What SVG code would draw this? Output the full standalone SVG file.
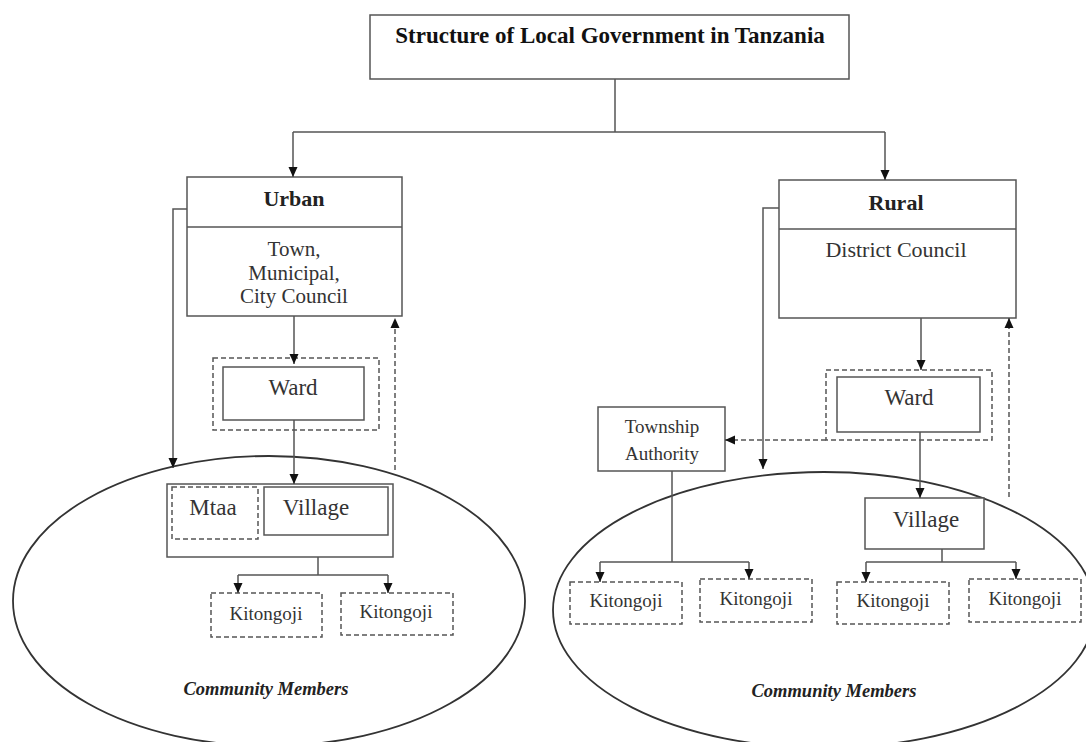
<svg xmlns="http://www.w3.org/2000/svg" width="1086" height="742" viewBox="0 0 1086 742">
<style>
.box{fill:#fff;stroke:#555;stroke-width:1.5}
.dbox{fill:none;stroke:#555;stroke-width:1.5;stroke-dasharray:5 3}
.ell{fill:none;stroke:#333;stroke-width:1.8}
.ln{fill:none;stroke:#555;stroke-width:1.5}
.arr{marker-end:url(#ah)}
.dl{stroke-dasharray:5 3}
text{font-family:"Liberation Serif","Times New Roman",serif;fill:#333;text-anchor:middle}
.t{font-size:23px;font-weight:bold;fill:#111}
.h{font-size:22px;font-weight:bold;fill:#222}
.b{font-size:21px}
.w{font-size:23px}
.k{font-size:19px}
.cm{font-size:18.5px;font-weight:bold;font-style:italic;fill:#222}
</style>
<defs>
<marker id="ah" viewBox="0 0 10 10" refX="10" refY="5" markerWidth="10" markerHeight="10" markerUnits="userSpaceOnUse" orient="auto">
<path d="M0,0.5 L10,5 L0,9.5 z" fill="#111"/>
</marker>
</defs>

<g id="ellipses">
<ellipse id="urban-community" class="ell" cx="269" cy="601" rx="256" ry="145"/>
<ellipse id="rural-community" class="ell" cx="824" cy="610" rx="271" ry="138"/>
</g>

<g id="title">
<rect class="box" x="370" y="15" width="479" height="64"/>
<text class="t" x="610" y="43">Structure of Local Government in Tanzania</text>
</g>

<g id="urban">
<rect class="box" x="187" y="177" width="215" height="139"/>
<line class="ln" x1="187" y1="227" x2="402" y2="227"/>
<text class="h" x="294" y="206">Urban</text>
<text class="b" x="294" y="256">Town,</text>
<text class="b" x="294" y="280">Municipal,</text>
<text class="b" x="294" y="303">City Council</text>
</g>

<g id="urban-ward">
<rect class="dbox" x="213" y="358" width="166" height="72"/>
<rect class="box" x="223" y="367" width="141" height="53"/>
<text class="w" x="293" y="395">Ward</text>
</g>

<g id="mtaa-village">
<rect class="box" x="167" y="484" width="226" height="73"/>
<rect class="dbox" x="172" y="487" width="86" height="52"/>
<rect class="box" x="264" y="487" width="124" height="48"/>
<text class="w" x="213" y="515">Mtaa</text>
<text class="w" x="316" y="515">Village</text>
</g>

<g id="urban-kitongoji-1">
<rect class="dbox" x="211" y="593" width="111" height="44"/>
<text class="k" x="266" y="620">Kitongoji</text>
</g>
<g id="urban-kitongoji-2">
<rect class="dbox" x="341" y="593" width="112" height="42"/>
<text class="k" x="396" y="618">Kitongoji</text>
</g>
<g id="urban-community-label">
<text class="cm" x="266" y="695">Community Members</text>
</g>

<g id="rural">
<rect class="box" x="779" y="180" width="237" height="138"/>
<line class="ln" x1="779" y1="229" x2="1016" y2="229"/>
<text class="h" x="896" y="210">Rural</text>
<text class="b" x="896" y="257" style="font-size:22px">District Council</text>
</g>

<g id="rural-ward">
<rect class="dbox" x="826" y="370" width="166" height="70"/>
<rect class="box" x="837" y="377" width="143" height="55"/>
<text class="w" x="909" y="405">Ward</text>
</g>

<g id="township">
<rect class="box" x="598" y="407" width="127" height="64"/>
<text class="k" x="662" y="433">Township</text>
<text class="k" x="662" y="460">Authority</text>
</g>

<g id="rural-village">
<rect class="box" x="865" y="498" width="119" height="51"/>
<text class="w" x="926" y="527">Village</text>
</g>

<g id="rural-kitongoji-1">
<rect class="dbox" x="570" y="582" width="112" height="42"/>
<text class="k" x="626" y="607">Kitongoji</text>
</g>
<g id="rural-kitongoji-2">
<rect class="dbox" x="700" y="579" width="112" height="43"/>
<text class="k" x="756" y="605">Kitongoji</text>
</g>
<g id="rural-kitongoji-3">
<rect class="dbox" x="837" y="582" width="112" height="42"/>
<text class="k" x="893" y="607">Kitongoji</text>
</g>
<g id="rural-kitongoji-4">
<rect class="dbox" x="969" y="579" width="112" height="43"/>
<text class="k" x="1025" y="605">Kitongoji</text>
</g>
<g id="rural-community-label">
<text class="cm" x="834" y="697">Community Members</text>
</g>

<g id="connectors">
<line class="ln" x1="615" y1="79" x2="615" y2="132"/>
<line class="ln" x1="293" y1="132" x2="885" y2="132"/>
<line class="ln arr" x1="293" y1="132" x2="293" y2="177"/>
<line class="ln arr" x1="885" y1="132" x2="885" y2="180"/>

<polyline class="ln arr" points="187,209 173,209 173,468"/>
<line class="ln arr" x1="294" y1="316" x2="294" y2="364"/>
<line class="ln arr" x1="294" y1="420" x2="294" y2="484"/>
<line class="ln dl arr" x1="395" y1="470" x2="395" y2="318"/>
<line class="ln" x1="318" y1="557" x2="318" y2="575"/>
<line class="ln" x1="238" y1="575" x2="388" y2="575"/>
<line class="ln arr" x1="238" y1="575" x2="238" y2="593"/>
<line class="ln arr" x1="388" y1="575" x2="388" y2="593"/>

<polyline class="ln arr" points="779,208 763,208 763,469"/>
<line class="ln arr" x1="921" y1="318" x2="921" y2="370"/>
<line class="ln dl arr" x1="826" y1="440" x2="725" y2="440"/>
<line class="ln dl arr" x1="1009" y1="497" x2="1009" y2="318"/>
<line class="ln arr" x1="920" y1="432" x2="920" y2="498"/>
<line class="ln" x1="672" y1="471" x2="672" y2="562"/>
<line class="ln" x1="600" y1="562" x2="749" y2="562"/>
<line class="ln arr" x1="600" y1="562" x2="600" y2="582"/>
<line class="ln arr" x1="749" y1="562" x2="749" y2="579"/>
<line class="ln" x1="942" y1="549" x2="942" y2="562"/>
<line class="ln" x1="866" y1="562" x2="1016" y2="562"/>
<line class="ln arr" x1="866" y1="562" x2="866" y2="582"/>
<line class="ln arr" x1="1016" y1="562" x2="1016" y2="579"/>
</g>
</svg>
